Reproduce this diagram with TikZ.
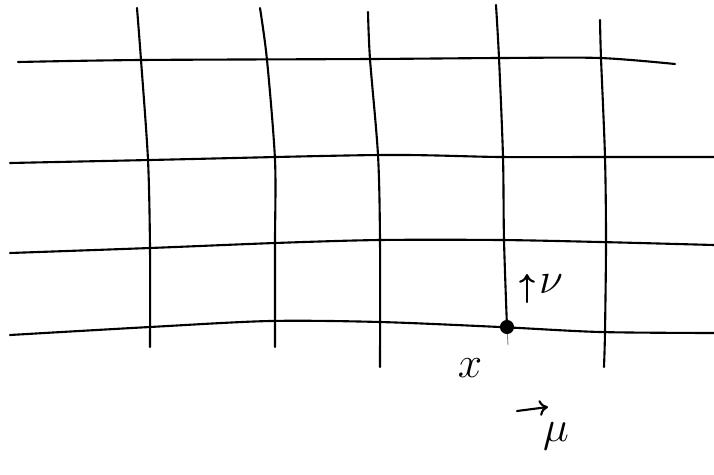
\documentclass[tikz,border=0pt]{standalone}
\usepackage{amsmath, amssymb}
\usepackage{xcolor}
\usepackage{tikz}
\usetikzlibrary{arrows.meta}

\begin{document}
\begin{tikzpicture}[x=0.02cm, y=-0.02cm, line width=1.2pt, line cap=round,
        >={To[length=5pt, width=9pt]}]
        \useasboundingbox (0,0) rectangle (714,474);

        % Horizontal lattice lines (hand drawn, slightly wavy)
        \draw plot[smooth] coordinates {(18,62) (140,60) (370,59) (500,58) (600,58) (675,64)};
        \draw plot[smooth] coordinates {(10,163) (150,160) (380,155) (500,157) (600,157) (714,157)};
        \draw plot[smooth] coordinates {(10,253) (150,248) (275,243) (380,240) (500,240) (600,242) (714,245)};
        \draw plot[smooth] coordinates {(10,335) (150,327) (270,321) (380,322) (500,327) (600,332) (714,333)};

        % Vertical lattice lines
        \draw plot[smooth] coordinates {(137,8) (141,60) (148,160) (150,248) (150,347)};
        \draw plot[smooth] coordinates {(260,8) (267,60) (275,160) (275,243) (275,347)};
        \draw plot[smooth] coordinates {(368,12) (370,59) (378,155) (380,240) (380,367)};
        \draw plot[smooth] coordinates {(496,5) (499,58) (503,157) (504,240) (507,327)};
        \draw[line width=0.5pt, gray] (507,327) -- (508,345);
        \draw plot[smooth] coordinates {(600,20) (601,58) (605,157) (606,242) (605,332) (604,367)};

        % Site x and its label
        \node[circle, fill, inner sep=0pt, minimum size=8pt] (site) at (507,327) {};
        \node[font=\Huge] (xlab) at (470,368) {$x$};

        % Direction nu
        \coordinate (nuS) at (527,302);
        \coordinate (nuE) at (527,274);
        \draw[->] (nuS) -- (nuE);
        \node[font=\Huge] (nulab) at (551,284) {$\nu$};

        % Direction mu
        \coordinate (muS) at (517,411);
        \coordinate (muE) at (548,407);
        \draw[->] (muS) -- (muE);
        \node[font=\Huge] (mulab) at (556,436) {$\mu$};
    \end{tikzpicture}
\end{document}
